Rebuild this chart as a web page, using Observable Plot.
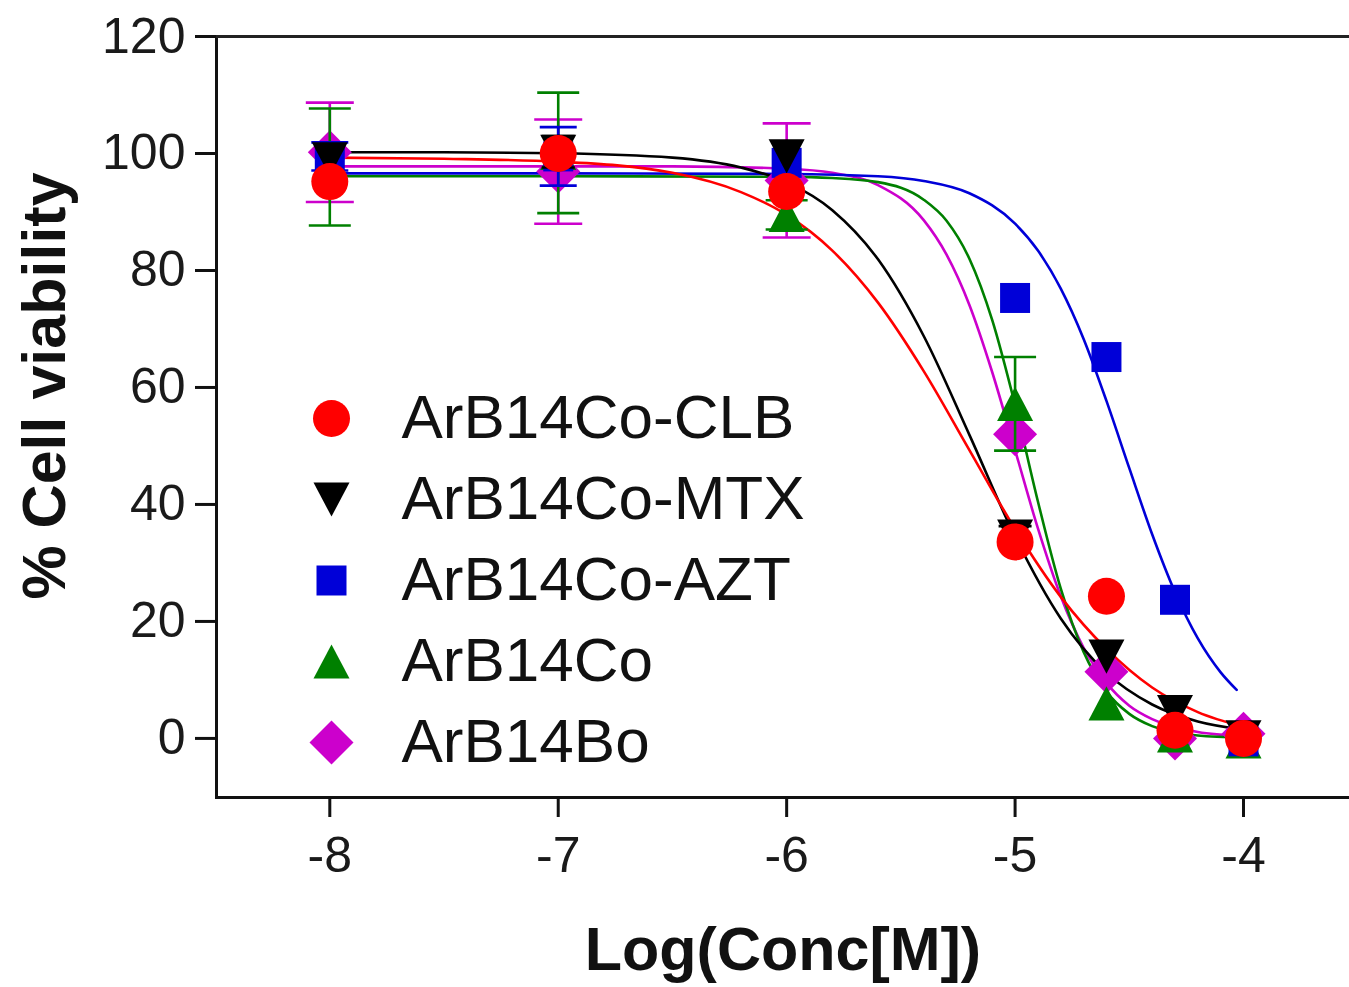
<!DOCTYPE html>
<html>
<head>
<meta charset="utf-8">
<script src="https://cdn.jsdelivr.net/npm/d3@7"></script>
<script src="https://cdn.jsdelivr.net/npm/@observablehq/plot@0.6"></script>
<style>
  html, body { margin: 0; padding: 0; background: #fff; }
  #chart svg { display: block; }
</style>
</head>
<body>
<div id="chart"></div>
<script>
// ---------- data ----------
const logConc = [-8, -7, -6, -5, -4.6, -4.3, -4];
const seriesNames = ["ArB14Co-CLB", "ArB14Co-MTX", "ArB14Co-AZT", "ArB14Co", "ArB14Bo"];
const seriesColors = ["#ff0000", "#000000", "#0000d8", "#008000", "#cc00cc"];

// mean viability and error (null = error bar hidden behind the marker)
const clbViability = [95.2, 100.0, 93.5, 33.6, 24.3, 1.4, 0.0];
const clbSem       = [null, null, null, null, null, null, null];
const mtxViability = [99.0, 100.3, 99.5, 34.5, 14.0, 4.5, 0.2];
const mtxSem       = [null, 2.7, null, 1.8, null, null, null];
const aztViability = [99.5, 99.5, 98.4, 75.3, 65.2, 23.7, -0.5];
const aztSem       = [2.4, 5.0, null, null, null, null, null];
const coViability  = [97.7, 100.1, 89.5, 57.2, 6.0, 0.5, -0.5];
const coSem        = [10.0, 10.3, 2.5, 8.0, null, null, null];
const boViability  = [100.2, 96.9, 95.4, 52.0, 11.4, 0.0, 0.8];
const boSem        = [8.5, 8.9, 9.75, null, null, null, null];

// fitted curves
const clbCurveX = [-8, -7.5, -7, -6.5, -6.2, -6, -5.8, -5.6, -5.4, -5.2, -5.0, -4.8, -4.6, -4.4, -4.2, -4.0];
const clbCurveY = [99.3, 99.1, 98.6, 96.7, 93.4, 89.5, 83.4, 74.5, 62.8, 49.3, 35.8, 24.2, 15.3, 8.7, 4.5, 2.0];
const mtxCurveX = [-8, -7.5, -7, -6.5, -6.2, -6, -5.8, -5.6, -5.4, -5.2, -5.0, -4.8, -4.6, -4.4, -4.2, -4.0];
const mtxCurveY = [100.2, 100.2, 100.05, 99.3, 97.6, 95.1, 90.3, 81.9, 68.8, 51.9, 34.5, 20.5, 11.2, 5.8, 2.9, 1.5];
const aztCurveX = [-8, -7, -6, -5.6, -5.4, -5.2, -5.0, -4.9, -4.8, -4.7, -4.6, -4.5, -4.4, -4.3, -4.2, -4.1, -4.03];
const aztCurveY = [96.6, 96.6, 96.5, 96.1, 95.3, 93.2, 88.0, 83.4, 76.9, 68.3, 57.7, 46.2, 34.9, 25.0, 17.1, 11.3, 8.3];
const coCurveX  = [-8, -7, -6, -5.8, -5.6, -5.4, -5.3, -5.2, -5.1, -5.0, -4.9, -4.8, -4.7, -4.6, -4.5, -4.4, -4.2, -4.0];
const coCurveY  = [96.1, 96.1, 96.0, 95.8, 95.1, 92.1, 88.5, 82.0, 71.5, 57.0, 40.5, 25.6, 14.8, 8.0, 4.2, 2.1, 0.5, 0.15];
const boCurveX  = [-8, -7, -6.5, -6, -5.8, -5.6, -5.4, -5.3, -5.2, -5.1, -5.0, -4.9, -4.8, -4.7, -4.6, -4.5, -4.4, -4.2, -4.0];
const boCurveY  = [97.8, 97.8, 97.8, 97.4, 96.7, 94.6, 88.6, 82.7, 74.1, 62.6, 49.3, 35.9, 24.3, 15.5, 9.5, 5.6, 3.3, 1.1, 0.4];

const xTicks = [-8, -7, -6, -5, -4];
const yTicks = [0, 20, 40, 60, 80, 100, 120];

// ---------- symbols ----------
const sym = {
  circle: { draw(c, s) { const r = Math.sqrt(s / Math.PI); c.moveTo(r, 0); c.arc(0, 0, r, 0, 2 * Math.PI); } },
  square: { draw(c, s) { const r = Math.sqrt(s / Math.PI); c.rect(-r, -r, 2 * r, 2 * r); } },
  triUp: { draw(c, s) { const r = Math.sqrt(s / Math.PI); c.moveTo(0, -0.95 * r); c.lineTo(r, 0.95 * r); c.lineTo(-r, 0.95 * r); c.closePath(); } },
  triDown: { draw(c, s) { const r = Math.sqrt(s / Math.PI); c.moveTo(0, 0.95 * r); c.lineTo(r, -0.95 * r); c.lineTo(-r, -0.95 * r); c.closePath(); } },
  diamond: { draw(c, s) { const r = Math.sqrt(s / Math.PI); c.moveTo(0, -r); c.lineTo(r, 0); c.lineTo(0, r); c.lineTo(-r, 0); c.closePath(); } },
  cap: { draw(c, s) { const r = Math.sqrt(s / Math.PI); c.moveTo(-r, 0); c.lineTo(r, 0); } }
};

const seriesDefs = [
  { name: seriesNames[0], color: seriesColors[0], mean: clbViability, sem: clbSem, cx: clbCurveX, cy: clbCurveY, symbol: sym.circle, r: 18.5, capR: 18 },
  { name: seriesNames[1], color: seriesColors[1], mean: mtxViability, sem: mtxSem, cx: mtxCurveX, cy: mtxCurveY, symbol: sym.triDown, r: 18, capR: 16.5 },
  { name: seriesNames[2], color: seriesColors[2], mean: aztViability, sem: aztSem, cx: aztCurveX, cy: aztCurveY, symbol: sym.square, r: 15, capR: 18.5 },
  { name: seriesNames[3], color: seriesColors[3], mean: coViability, sem: coSem, cx: coCurveX, cy: coCurveY, symbol: sym.triUp, r: 18, capR: 21 },
  { name: seriesNames[4], color: seriesColors[4], mean: boViability, sem: boSem, cx: boCurveX, cy: boCurveY, symbol: sym.diamond, r: 22, capR: 24 }
];

const FONT = "'Liberation Sans', Arial, Helvetica, sans-serif";
const marks = [];

// frame lines (left, top, bottom)
marks.push(Plot.frame({ anchor: "left", stroke: "#111", strokeWidth: 3 }));
marks.push(Plot.frame({ anchor: "top", stroke: "#222", strokeWidth: 3 }));
marks.push(Plot.frame({ anchor: "bottom", stroke: "#111", strokeWidth: 3 }));

// axes
marks.push(Plot.axisY(yTicks, { tickSize: 21, tickPadding: 10, fontSize: 50, strokeWidth: 3, stroke: "#111", fill: "#1a1a1a", label: null, tickFormat: d => String(d) }));
marks.push(Plot.axisX(xTicks, { tickSize: 20, tickPadding: 19, fontSize: 50, strokeWidth: 3, stroke: "#111", fill: "#1a1a1a", label: null, tickFormat: d => String(d) }));

// curves (drawn last series first so red ends on top)
const order = [4, 3, 2, 1, 0];
for (const i of order) {
  const s = seriesDefs[i];
  const pts = s.cx.map((x, k) => ({ x, y: s.cy[k] }));
  marks.push(Plot.line(pts, { x: "x", y: "y", stroke: s.color, strokeWidth: 2.6, curve: "monotone-x" }));
}

// error bars and points
for (const i of order) {
  const s = seriesDefs[i];
  const rows = logConc.map((x, k) => ({ x, y: s.mean[k], e: s.sem[k] }));
  const bars = rows.filter(d => d.e != null).map(d => ({ x: d.x, lo: d.y - d.e, hi: d.y + d.e }));
  marks.push(Plot.ruleX(bars, { x: "x", y1: "lo", y2: "hi", stroke: s.color, strokeWidth: 2.6 }));
  marks.push(Plot.dot(bars, { x: "x", y: "hi", symbol: sym.cap, r: s.capR, stroke: s.color, fill: "none", strokeWidth: 2.6 }));
  marks.push(Plot.dot(bars, { x: "x", y: "lo", symbol: sym.cap, r: s.capR, stroke: s.color, fill: "none", strokeWidth: 2.6 }));
  marks.push(Plot.dot(rows, { x: "x", y: "y", symbol: s.symbol, r: s.r, fill: s.color, stroke: "none" }));
}

// legend inside plot
seriesDefs.forEach((s, i) => {
  const dy = 382 + i * 81;
  marks.push(Plot.dot([s.name], { frameAnchor: "top-left", dx: 115, dy, symbol: s.symbol, r: s.r, fill: s.color, stroke: "none" }));
  marks.push(Plot.text([s.name], { frameAnchor: "top-left", dx: 185, dy, textAnchor: "start", lineAnchor: "middle", fontSize: 62, fill: "#111" }));
});

// axis titles
marks.push(Plot.text(["Log(Conc[M])"], { frameAnchor: "bottom", dy: 153, textAnchor: "middle", lineAnchor: "middle", fontSize: 61, fontWeight: "bold", fill: "#111" }));
marks.push(Plot.text(["% Cell viability"], { frameAnchor: "left", rotate: -90, dx: -171, dy: -31, textAnchor: "middle", lineAnchor: "middle", fontSize: 61, fontWeight: "bold", fill: "#111" }));

const chart = Plot.plot({
  width: 1349,
  height: 987,
  marginLeft: 216,
  marginRight: 0,
  marginTop: 36,
  marginBottom: 190,
  style: { fontFamily: FONT, background: "#fff", overflow: "visible" },
  x: { domain: [-8.496, -3.536] },
  y: { domain: [-10.1, 120] },
  marks
});
document.getElementById("chart").appendChild(chart);
</script>
</body>
</html>
